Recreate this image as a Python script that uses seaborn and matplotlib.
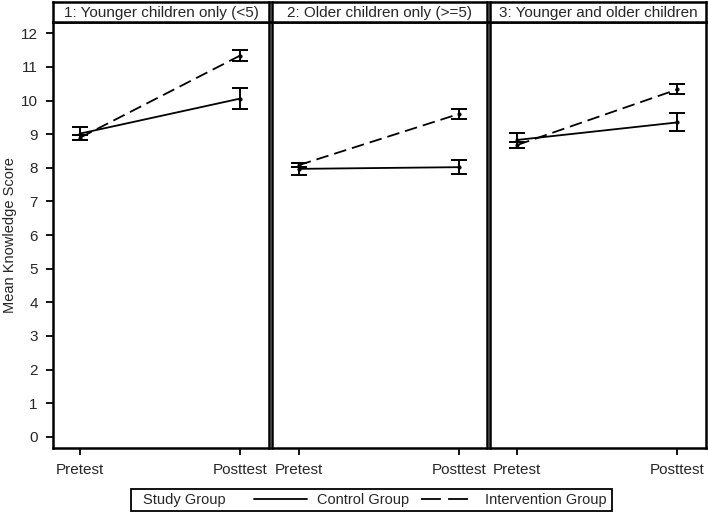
import numpy as np
import pandas as pd
import matplotlib
matplotlib.use("Agg")
import matplotlib.pyplot as plt
from matplotlib.lines import Line2D
from matplotlib.patches import Rectangle
import seaborn as sns

# values
panels = ["1: Younger children only (<5)", "2: Older children only (>=5)", "3: Younger and older children"]
times = ["Pretest", "Posttest"]
groups = ["Control Group", "Intervention Group"]

control_mean = [[9.02, 10.06], [7.97, 8.02], [8.83, 9.35]]
control_lo = [[8.84, 9.76], [7.80, 7.81], [8.60, 9.10]]
control_hi = [[9.20, 10.38], [8.14, 8.24], [9.04, 9.63]]

interv_mean = [[8.90, 11.34], [8.08, 9.60], [8.68, 10.33]]
interv_lo = [[8.82, 11.17], [8.02, 9.46], [8.58, 10.20]]
interv_hi = [[8.98, 11.49], [8.14, 9.75], [8.77, 10.50]]

rows = []
for p, name in enumerate(panels):
    for t, tm in enumerate(times):
        rows.append((name, t, groups[0], control_mean[p][t], control_lo[p][t], control_hi[p][t]))
        rows.append((name, t, groups[1], interv_mean[p][t], interv_lo[p][t], interv_hi[p][t]))
df = pd.DataFrame(rows, columns=["panel", "time", "group", "mean", "lo", "hi"])

sns.set_style("white")
plt.rcParams["font.family"] = ["Liberation Sans", "DejaVu Sans"]
FS = 11

fig, axes = plt.subplots(1, 3, figsize=(7.08, 5.17), dpi=100, sharey=True)
fig.subplots_adjust(left=0.075, right=0.997, bottom=0.1335, top=0.957, wspace=0.012)

DASH = (7, 3.3)
dash_map = {groups[0]: "", groups[1]: DASH}

for ax, name in zip(axes, panels):
    sub = df[df["panel"] == name]
    sns.lineplot(data=sub, x="time", y="mean", style="group", style_order=groups,
                 dashes=dash_map, color="black", lw=1.3, marker="o", markersize=3,
                 markeredgewidth=0, errorbar=None, legend=False, ax=ax)
    for g in groups:
        s = sub[sub["group"] == g]
        ax.errorbar(s["time"], s["mean"],
                    yerr=[s["mean"] - s["lo"], s["hi"] - s["mean"]],
                    fmt="none", ecolor="black", elinewidth=1.4, capsize=6, capthick=1.4)
    ax.set_xlim(-0.17, 1.18)
    ax.set_ylim(-0.33, 12.33)
    ax.set_xticks([0, 1])
    ax.set_xticklabels(times, fontsize=FS)
    ax.set_yticks(range(0, 13))
    ax.set_xlabel("")
    ax.set_ylabel("")
    ax.tick_params(axis="both", direction="out", length=5, width=1.3, color="black",
                   bottom=True, left=(ax is axes[0]), labelsize=FS, pad=6)
    for sp in ax.spines.values():
        sp.set_visible(True)
        sp.set_color("black")
        sp.set_linewidth(1.8)
    # header strip
    strip = ax.inset_axes([0, 1, 1, 20 / 426])
    strip.set_xticks([])
    strip.set_yticks([])
    for sp in strip.spines.values():
        sp.set_color("black")
        sp.set_linewidth(1.8)
    strip.text(0.5, 0.45, name, ha="center", va="center", fontsize=FS,
               transform=strip.transAxes)

axes[0].set_ylabel("Mean Knowledge Score", fontsize=10.5, labelpad=3)

# legend: "Study Group" label, then the two line styles, in one box
LFS = 10.5
leg_y = 1 - 500 / 517
fig.patches.append(Rectangle((131 / 708, 1 - 511 / 517), (612 - 131) / 708, 22 / 517,
                             transform=fig.transFigure, fill=False,
                             edgecolor="black", lw=1.3))
fig.text(143 / 708, leg_y, "Study Group", ha="left", va="center", fontsize=LFS)
handles = [Line2D([], [], color="black", lw=1.3),
           Line2D([], [], color="black", lw=1.3, dashes=(11, 4))]
fig.legend(handles, groups, loc="center left", bbox_to_anchor=(254 / 708, leg_y),
           ncol=2, fontsize=LFS, frameon=False, handlelength=3.6, handletextpad=0.75,
           columnspacing=0.8, borderpad=0, borderaxespad=0)

fig.savefig("out.png", dpi=100)
